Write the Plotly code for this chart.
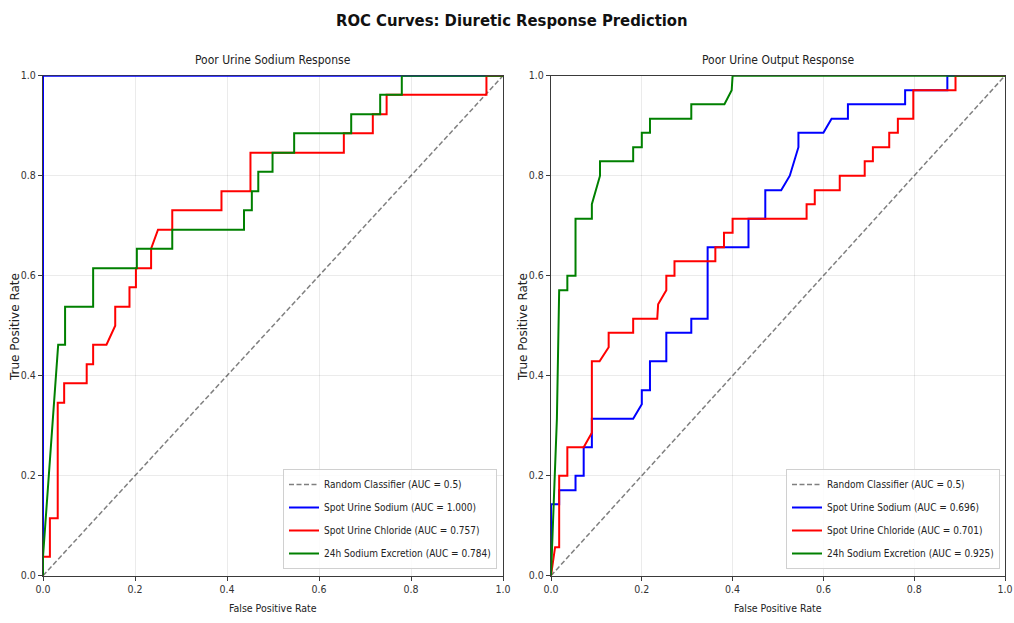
import plotly.graph_objects as go

# ---- Panel 1: Poor Urine Sodium Response ----
sodium_na_fpr = [0.0, 0.0, 1.0]
sodium_na_tpr = [0.0, 1.0, 1.0]

sodium_cl_fpr = [0.0, 0.0, 0.015, 0.015, 0.032, 0.032, 0.046, 0.046, 0.095, 0.095,
                 0.109, 0.109, 0.138, 0.157, 0.157, 0.188, 0.188, 0.202, 0.202, 0.235,
                 0.235, 0.25, 0.281, 0.281, 0.388, 0.388, 0.451, 0.451, 0.654, 0.654,
                 0.717, 0.717, 0.747, 0.747, 0.964, 0.964, 1.0]
sodium_cl_tpr = [0.0, 0.038, 0.038, 0.115, 0.115, 0.346, 0.346, 0.385, 0.385, 0.423,
                 0.423, 0.462, 0.462, 0.5, 0.538, 0.538, 0.577, 0.577, 0.615, 0.615,
                 0.654, 0.692, 0.692, 0.731, 0.731, 0.769, 0.769, 0.846, 0.846, 0.885,
                 0.885, 0.923, 0.923, 0.962, 0.962, 1.0, 1.0]

sodium_24h_fpr = [0.0, 0.0, 0.033, 0.048, 0.048, 0.109, 0.109, 0.204, 0.204, 0.281,
                  0.281, 0.437, 0.437, 0.454, 0.454, 0.468, 0.468, 0.499, 0.499, 0.546,
                  0.546, 0.670, 0.670, 0.733, 0.733, 0.780, 0.780, 1.0]
sodium_24h_tpr = [0.0, 0.038, 0.462, 0.462, 0.538, 0.538, 0.615, 0.615, 0.654, 0.654,
                  0.692, 0.692, 0.731, 0.731, 0.769, 0.769, 0.808, 0.808, 0.846, 0.846,
                  0.885, 0.885, 0.923, 0.923, 0.962, 0.962, 1.0, 1.0]

# ---- Panel 2: Poor Urine Output Response ----
output_na_fpr = [0.0, 0.0, 0.018, 0.018, 0.054, 0.054, 0.072, 0.072, 0.09, 0.09,
                 0.181, 0.2, 0.2, 0.218, 0.218, 0.254, 0.254, 0.309, 0.309, 0.345,
                 0.345, 0.435, 0.435, 0.472, 0.472, 0.507, 0.526, 0.545, 0.545, 0.6,
                 0.618, 0.654, 0.654, 0.78, 0.78, 0.873, 0.873, 1.0]
output_na_tpr = [0.0, 0.143, 0.143, 0.171, 0.171, 0.2, 0.2, 0.257, 0.257, 0.314,
                 0.314, 0.343, 0.371, 0.371, 0.429, 0.429, 0.486, 0.486, 0.514, 0.514,
                 0.657, 0.657, 0.714, 0.714, 0.771, 0.771, 0.8, 0.857, 0.886, 0.886,
                 0.914, 0.914, 0.943, 0.943, 0.971, 0.971, 1.0, 1.0]

output_cl_fpr = [0.0, 0.009, 0.018, 0.018, 0.036, 0.036, 0.072, 0.09, 0.09, 0.107,
                 0.127, 0.127, 0.181, 0.181, 0.234, 0.236, 0.254, 0.254, 0.272, 0.272,
                 0.362, 0.362, 0.381, 0.381, 0.4, 0.4, 0.563, 0.563, 0.581, 0.581,
                 0.636, 0.636, 0.691, 0.691, 0.709, 0.709, 0.745, 0.745, 0.764, 0.764,
                 0.798, 0.798, 0.891, 0.891, 1.0]
output_cl_tpr = [0.0, 0.057, 0.057, 0.2, 0.2, 0.257, 0.257, 0.286, 0.429, 0.429,
                 0.457, 0.486, 0.486, 0.514, 0.514, 0.543, 0.571, 0.6, 0.6, 0.629,
                 0.629, 0.657, 0.657, 0.686, 0.686, 0.714, 0.714, 0.743, 0.743, 0.771,
                 0.771, 0.8, 0.8, 0.829, 0.829, 0.857, 0.857, 0.886, 0.886, 0.914,
                 0.914, 0.971, 0.971, 1.0, 1.0]

output_24h_fpr = [0.0, 0.013, 0.018, 0.036, 0.036, 0.054, 0.054, 0.09, 0.09, 0.108,
                  0.108, 0.181, 0.181, 0.2, 0.2, 0.218, 0.218, 0.309, 0.309, 0.382,
                  0.398, 0.4, 1.0]
output_24h_tpr = [0.0, 0.314, 0.571, 0.571, 0.6, 0.6, 0.714, 0.714, 0.743, 0.8,
                  0.829, 0.829, 0.857, 0.857, 0.886, 0.886, 0.914, 0.914, 0.943, 0.943,
                  0.971, 1.0, 1.0]

panel_titles = ["Poor Urine Sodium Response", "Poor Urine Output Response"]
series_names = ["Spot Urine Sodium", "Spot Urine Chloride", "24h Sodium Excretion"]
series_colors = ["#0000ff", "#ff0000", "#008000"]
auc_sodium = [1.000, 0.757, 0.784]
auc_output = [0.696, 0.701, 0.925]
tick_vals = [0.0, 0.2, 0.4, 0.6, 0.8, 1.0]
tick_text = ["0.0", "0.2", "0.4", "0.6", "0.8", "1.0"]

FONT = "DejaVu Sans Condensed, Liberation Sans, sans-serif"
W, H = 1014, 623

panels = [
    dict(curves=[(sodium_na_fpr, sodium_na_tpr), (sodium_cl_fpr, sodium_cl_tpr),
                 (sodium_24h_fpr, sodium_24h_tpr)], auc=auc_sodium,
         xa="x", ya="y", legend="legend", tag="a"),
    dict(curves=[(output_na_fpr, output_na_tpr), (output_cl_fpr, output_cl_tpr),
                 (output_24h_fpr, output_24h_tpr)], auc=auc_output,
         xa="x2", ya="y2", legend="legend2", tag="b"),
]

fig = go.Figure()
for p in panels:
    fig.add_trace(go.Scatter(
        x=[0, 1], y=[0, 1], mode="lines", xaxis=p["xa"], yaxis=p["ya"],
        name="Random Classifier (AUC = 0.5)", legend=p["legend"],
        legendgroup=p["tag"] + "0",
        line=dict(color="rgba(0,0,0,0.5)", width=1.5, dash="5px,2.5px")))
    for i, ((fx, ty), name, color, auc) in enumerate(
            zip(p["curves"], series_names, series_colors, p["auc"])):
        fig.add_trace(go.Scatter(
            x=fx, y=ty, mode="lines", xaxis=p["xa"], yaxis=p["ya"],
            name=f"{name} (AUC = {auc:.3f})", legend=p["legend"],
            legendgroup=p["tag"] + str(i + 1),
            line=dict(color=color, width=2)))

# plot-area pixel boxes
left_box = (43, 503)
right_box = (551, 1005)
top_px, bot_px = 75.7, 575.7
ydom = [1 - bot_px / H, 1 - top_px / H]

axis_common = dict(range=[0, 1], tickvals=tick_vals, ticktext=tick_text,
                   showline=True, linecolor="#3a3a3a", linewidth=1.2, mirror=True,
                   ticks="outside", ticklen=4, tickcolor="#3a3a3a",
                   showgrid=True, gridcolor="rgba(0,0,0,0.08)", gridwidth=1,
                   zeroline=False, tickfont=dict(family=FONT, size=10.5, color="#333"),
                   ticklabeloverflow="allow",
                   automargin=False, layer="below traces", fixedrange=True)

legend_common = dict(y=1 - 569 / H, xanchor="right", yanchor="bottom",
                     bgcolor="rgba(255,255,255,0.85)", bordercolor="#d0d0d0", borderwidth=1,
                     font=dict(family=FONT, size=10, color="#222"),
                     tracegroupgap=4, itemwidth=30)

fig.update_layout(
    width=W, height=H,
    margin=dict(l=0, r=0, t=0, b=0, autoexpand=False),
    paper_bgcolor="white", plot_bgcolor="white",
    font=dict(family=FONT, color="#222"),
    xaxis=dict(domain=[left_box[0] / W, left_box[1] / W], anchor="y", **axis_common),
    yaxis=dict(domain=ydom, anchor="x", **axis_common),
    xaxis2=dict(domain=[right_box[0] / W, right_box[1] / W], anchor="y2", **axis_common),
    yaxis2=dict(domain=ydom, anchor="x2", **axis_common),
    legend=dict(x=497 / W, **legend_common),
    legend2=dict(x=(right_box[1] - 5) / W, **legend_common),
    showlegend=True,
)


def label(text, x_px, y_px, size, family=FONT, angle=0, color="#222"):
    return dict(text=text, x=x_px / W, y=1 - y_px / H, xref="paper", yref="paper",
                xanchor="center", yanchor="middle", showarrow=False, textangle=angle,
                font=dict(family=family, size=size, color=color))


annotations = [label("<b>ROC Curves: Diuretic Response Prediction</b>", 512, 21, 16.5,
                     color="#111")]
for (l, r), title in zip([left_box, right_box], panel_titles):
    cx = (l + r) / 2
    annotations.append(label(title, cx, 60, 12))
    annotations.append(label("False Positive Rate", cx, 608, 10.5))
    annotations.append(label("True Positive Rate", l - 28, 327, 12,
                             family="DejaVu Sans, sans-serif", angle=-90))
fig.update_layout(annotations=annotations)

fig.write_html("out.html")
